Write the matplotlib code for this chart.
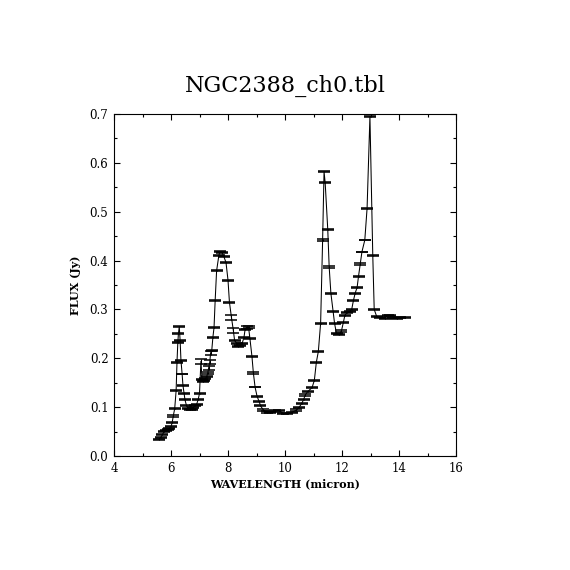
import numpy as np
import matplotlib
matplotlib.use("Agg")
import matplotlib.pyplot as plt
from matplotlib.ticker import MultipleLocator

# spectrum
wave = [5.58, 5.64, 5.70, 5.76, 5.82, 5.88, 5.94, 6.00, 6.04, 6.08,
        6.13, 6.18, 6.21, 6.24, 6.26, 6.29, 6.32, 6.35, 6.39, 6.42,
        6.46, 6.49, 6.54, 6.60, 6.66, 6.72, 6.78, 6.84, 6.90, 6.95,
        7.00, 7.05, 7.09, 7.13, 7.17, 7.21, 7.25, 7.29, 7.32, 7.36,
        7.39, 7.43, 7.47, 7.51, 7.55, 7.60, 7.68, 7.73, 7.79, 7.85,
        7.93, 8.00, 8.05, 8.12, 8.19, 8.23, 8.30, 8.36, 8.43, 8.50,
        8.56, 8.60, 8.65, 8.72, 8.77, 8.84, 8.89, 8.95, 9.02, 9.09,
        9.14, 9.24, 9.36, 9.48, 9.64, 9.80, 9.94, 10.08, 10.23, 10.40,
        10.50, 10.58, 10.65, 10.71, 10.80, 10.95, 11.03, 11.10, 11.17, 11.25,
        11.32, 11.37, 11.41, 11.50, 11.55, 11.61, 11.69, 11.74, 11.81, 11.90,
        11.98, 12.05, 12.10, 12.17, 12.28, 12.34, 12.40, 12.46, 12.53, 12.58,
        12.64, 12.70, 12.80, 12.88, 12.98, 13.08, 13.13, 13.22, 13.34, 13.50,
        13.60, 13.70, 13.80, 13.93, 14.05, 14.20]

flux = [0.034, 0.038, 0.044, 0.050, 0.052, 0.054, 0.056, 0.060, 0.068, 0.082,
        0.097, 0.134, 0.192, 0.233, 0.250, 0.265, 0.236, 0.195, 0.168, 0.144,
        0.128, 0.115, 0.104, 0.097, 0.095, 0.096, 0.099, 0.103, 0.106, 0.115,
        0.128, 0.194, 0.156, 0.152, 0.155, 0.158, 0.162, 0.170, 0.180, 0.192,
        0.211, 0.216, 0.243, 0.263, 0.319, 0.379, 0.411, 0.418, 0.416, 0.409,
        0.396, 0.360, 0.315, 0.284, 0.256, 0.237, 0.230, 0.224, 0.226, 0.231,
        0.243, 0.259, 0.263, 0.264, 0.240, 0.204, 0.170, 0.141, 0.122, 0.112,
        0.103, 0.094, 0.090, 0.089, 0.092, 0.093, 0.087, 0.087, 0.089, 0.094,
        0.100, 0.107, 0.115, 0.125, 0.132, 0.140, 0.155, 0.192, 0.214, 0.272,
        0.442, 0.582, 0.559, 0.464, 0.387, 0.333, 0.295, 0.271, 0.250, 0.248,
        0.256, 0.274, 0.288, 0.293, 0.296, 0.300, 0.318, 0.333, 0.345, 0.368,
        0.393, 0.418, 0.442, 0.507, 0.695, 0.410, 0.300, 0.285, 0.283, 0.282,
        0.288, 0.288, 0.284, 0.281, 0.283, 0.284]

ferr = [0.0012, 0.0012, 0.0012, 0.0012, 0.0012, 0.0012, 0.0012, 0.0012, 0.0012, 0.0012,
        0.0012, 0.0005, 0.0012, 0.0012, 0.0012, 0.0012, 0.0012, 0.0012, 0.0005, 0.0012,
        0.0012, 0.0012, 0.0012, 0.0012, 0.0012, 0.0012, 0.0012, 0.0012, 0.0012, 0.0012,
        0.0012, 0.0050, 0.0012, 0.0012, 0.0012, 0.0012, 0.0012, 0.0012, 0.0035, 0.0035,
        0.0035, 0.0012, 0.0012, 0.0012, 0.0012, 0.0012, 0.0012, 0.0012, 0.0012, 0.0012,
        0.0012, 0.0012, 0.0012, 0.0050, 0.0050, 0.0012, 0.0012, 0.0012, 0.0012, 0.0012,
        0.0012, 0.0012, 0.0035, 0.0012, 0.0012, 0.0012, 0.0012, 0.0005, 0.0012, 0.0012,
        0.0012, 0.0012, 0.0012, 0.0012, 0.0012, 0.0012, 0.0012, 0.0012, 0.0012, 0.0012,
        0.0012, 0.0005, 0.0012, 0.0012, 0.0012, 0.0012, 0.0012, 0.0012, 0.0012, 0.0012,
        0.0012, 0.0012, 0.0012, 0.0012, 0.0012, 0.0012, 0.0012, 0.0012, 0.0012, 0.0012,
        0.0012, 0.0012, 0.0012, 0.0012, 0.0012, 0.0012, 0.0012, 0.0012, 0.0005, 0.0012,
        0.0012, 0.0005, 0.0005, 0.0012, 0.0012, 0.0012, 0.0005, 0.0012, 0.0012, 0.0012,
        0.0012, 0.0012, 0.0012, 0.0012, 0.0012, 0.0012]

SERIF = "DejaVu Serif"

fig = plt.figure(figsize=(5.7, 5.7), dpi=100)
fig.patch.set_facecolor("white")
ax = fig.add_axes([0.2, 0.2, 0.6, 0.6])

ax.errorbar(wave, flux, yerr=ferr, color="black", linewidth=0.75,
            elinewidth=0.75, capsize=4.2, capthick=1.1)

ax.set_xlim(4, 16)
ax.set_ylim(0, 0.7)
ax.xaxis.set_major_locator(MultipleLocator(2))
ax.xaxis.set_minor_locator(MultipleLocator(1))
ax.yaxis.set_major_locator(MultipleLocator(0.1))
ax.yaxis.set_minor_locator(MultipleLocator(0.05))
ax.yaxis.set_major_formatter(matplotlib.ticker.FormatStrFormatter("%.1f"))

ax.tick_params(which="both", direction="in", top=True, right=True,
               width=0.8, labelsize=8.5, colors="black")
ax.tick_params(which="major", length=4, pad=4)
ax.tick_params(which="minor", length=2)
for lab in ax.get_xticklabels() + ax.get_yticklabels():
    lab.set_family(SERIF)
for sp in ax.spines.values():
    sp.set_linewidth(0.8)

ax.set_xlabel("WAVELENGTH (micron)", family=SERIF, fontsize=8,
              fontweight="bold", labelpad=3)
ax.set_ylabel("FLUX (Jy)", family=SERIF, fontsize=8,
              fontweight="bold", labelpad=6)
ax.set_title("NGC2388_ch0.tbl", family=SERIF, fontsize=16, pad=16)

plt.savefig("out.png", dpi=100, facecolor="white")
